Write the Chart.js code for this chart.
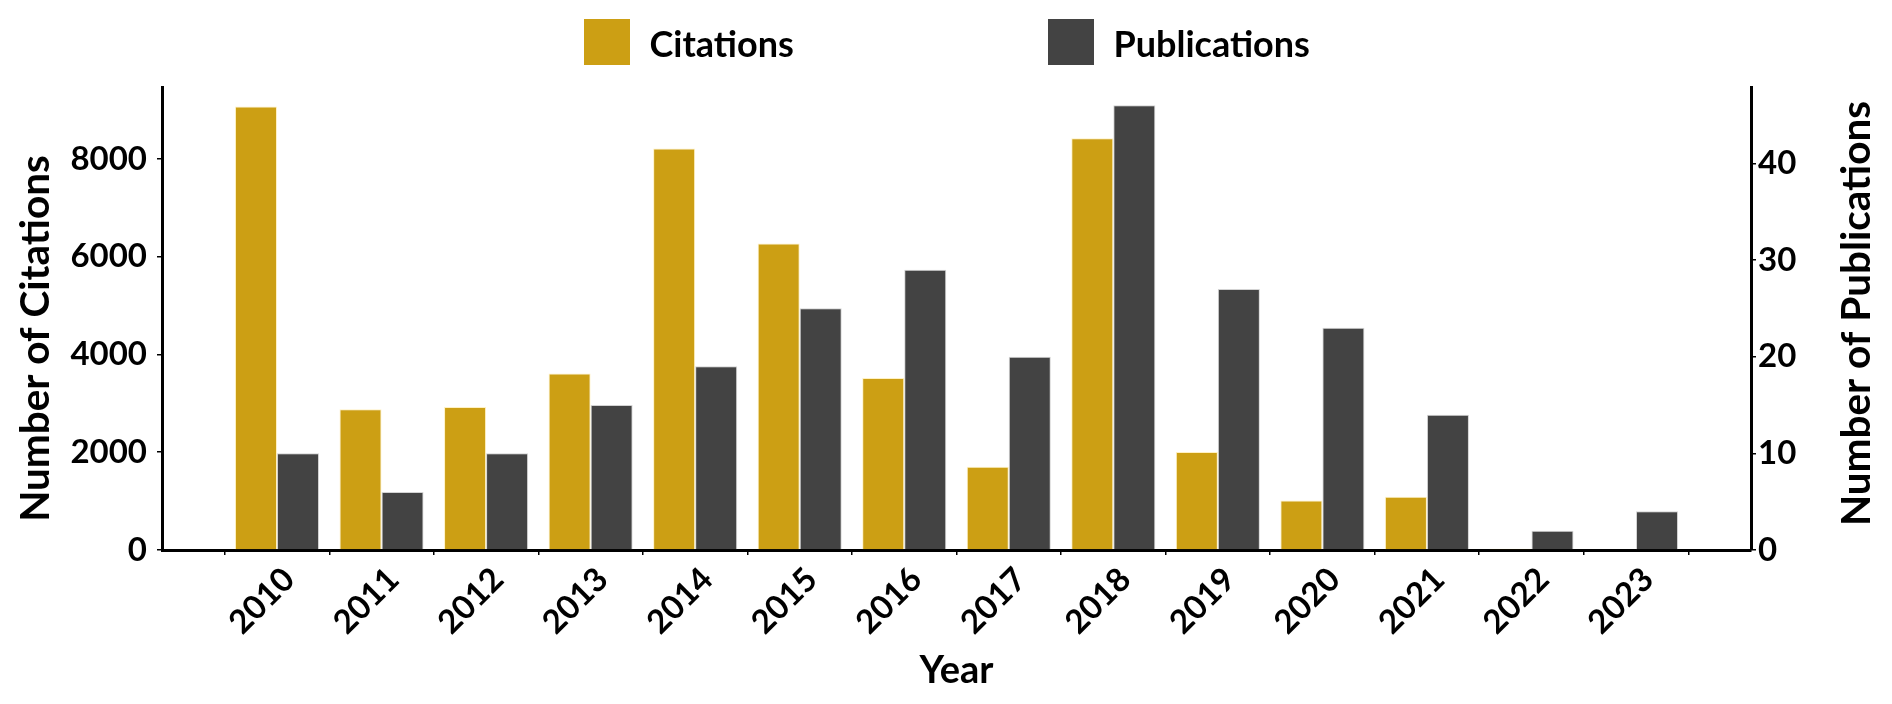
<!DOCTYPE html>
<html>
<head>
<meta charset="utf-8">
<script src="https://cdn.jsdelivr.net/npm/chart.js@4.4.0/dist/chart.umd.min.js"></script>
<style>
html,body{margin:0;padding:0;background:#fff;}
#wrap{width:1892px;height:704px;position:relative;}
</style>
</head>
<body>
<div id="wrap"><canvas id="c" width="1892" height="704"></canvas></div>
<script>
// ---- data ----
const years = [2010, 2011, 2012, 2013, 2014, 2015, 2016, 2017, 2018, 2019, 2020, 2021, 2022, 2023];
const citations = [9070, 2880, 2925, 3610, 8210, 6270, 3520, 1705, 8420, 2005, 1015, 1090, 25, 0];
const publications = [10, 6, 10, 15, 19, 25, 29, 20, 46, 27, 23, 14, 2, 4];
const citationTicks = [0, 2000, 4000, 6000, 8000];
const publicationTicks = [0, 10, 20, 30, 40];
const seriesNames = ['Citations', 'Publications'];
const xTitle = 'Year';
const leftTitle = 'Number of Citations';
const rightTitle = 'Number of Publications';

// ---- style ----
const FAMILY = 'Lato, "Open Sans", sans-serif';
const GOLD = '#CC9F14';
const DARK = '#434343';
const tickFont = {family: FAMILY, weight: 'bold', size: 33};
const titleFont = {family: FAMILY, weight: 'bold', size: 38};
const yTitleSize = 40.5;

const decor = {
  id: 'decor',
  afterDraw(chart) {
    const ctx = chart.ctx;
    const W = chart.width;
    ctx.save();
    // legend
    const boxX = [W / 2 - 362, W / 2 + 102];
    chart.data.datasets.forEach((ds, i) => {
      ctx.fillStyle = ds.backgroundColor;
      ctx.fillRect(boxX[i], 19, 46, 46);
      ctx.fillStyle = '#000';
      ctx.font = 'bold 36px ' + FAMILY;
      ctx.textAlign = 'left';
      ctx.textBaseline = 'alphabetic';
      ctx.fillText(ds.label, boxX[i] + 46 + 19.5, 57);
    });
    // y titles (both read bottom-to-top)
    ctx.font = 'bold ' + yTitleSize + 'px ' + FAMILY;
    ctx.textAlign = 'center';
    ctx.textBaseline = 'middle';
    const ca = chart.chartArea;
    const drawV = (txt, x, y) => {
      ctx.save();
      ctx.translate(x, y);
      ctx.rotate(-Math.PI / 2);
      ctx.fillText(txt, 0, 0);
      ctx.restore();
    };
    drawV(leftTitle, 36, (ca.top + ca.bottom) / 2 + 20);
    drawV(rightTitle, W - 35, (ca.top + ca.bottom) / 2 - 5);
    ctx.restore();
  }
};

const barCommon = {barPercentage: 1, categoryPercentage: 0.804, borderWidth: 1, borderSkipped: 'start'};

new Chart(document.getElementById('c'), {
  type: 'bar',
  data: {
    datasets: [
      Object.assign({
        label: seriesNames[0],
        data: years.map((x, i) => ({x: x, y: citations[i]})),
        backgroundColor: GOLD,
        borderColor: 'rgba(255,235,170,0.7)',
        yAxisID: 'y'
      }, barCommon),
      Object.assign({
        label: seriesNames[1],
        data: years.map((x, i) => ({x: x, y: publications[i]})),
        backgroundColor: DARK,
        borderColor: 'rgba(200,200,200,0.8)',
        yAxisID: 'y1'
      }, barCommon)
    ]
  },
  options: {
    responsive: false,
    maintainAspectRatio: false,
    animation: false,
    devicePixelRatio: 1,
    layout: {padding: {top: 87, left: 0, right: 0, bottom: 0}},
    plugins: {legend: {display: false}, tooltip: {enabled: false}, title: {display: false}},
    scales: {
      x: {
        type: 'linear',
        min: years[0] - 1.1,
        max: years[years.length - 1] + 1.1,
        offset: false,
        z: 1,
        afterBuildTicks: s => { s.ticks = years.map(v => ({value: v})); },
        afterFit: s => { s.height = 154; },
        ticks: {autoSkip: false, minRotation: 45, maxRotation: 45, labelOffset: 12, padding: 5,
                font: tickFont, color: '#000', callback: v => String(v)},
        grid: {display: true, drawOnChartArea: false, tickLength: 5, color: '#000', lineWidth: 1.5},
        border: {display: true, color: '#000', width: 3},
        title: {display: true, text: xTitle, font: titleFont, color: '#000', padding: {top: 0, bottom: 10}}
      },
      y: {
        type: 'linear',
        position: 'left',
        min: 0,
        max: 9470,
        z: 1,
        afterBuildTicks: s => { s.ticks = citationTicks.map(v => ({value: v})); },
        afterFit: s => { s.width = 162; },
        ticks: {font: tickFont, color: '#000', padding: 10, callback: v => String(v)},
        grid: {display: true, drawOnChartArea: false, tickLength: 5, color: '#000', lineWidth: 1.5},
        border: {display: true, color: '#000', width: 3}
      },
      y1: {
        type: 'linear',
        position: 'right',
        min: 0,
        max: 47.9,
        z: 1,
        afterBuildTicks: s => { s.ticks = publicationTicks.map(v => ({value: v})); },
        afterFit: s => { s.width = 141; },
        ticks: {font: tickFont, color: '#000', padding: 2, callback: v => String(v)},
        grid: {display: true, drawOnChartArea: false, tickLength: 5, color: '#000', lineWidth: 1.5},
        border: {display: true, color: '#000', width: 3}
      }
    }
  },
  plugins: [decor]
});
</script>
</body>
</html>
